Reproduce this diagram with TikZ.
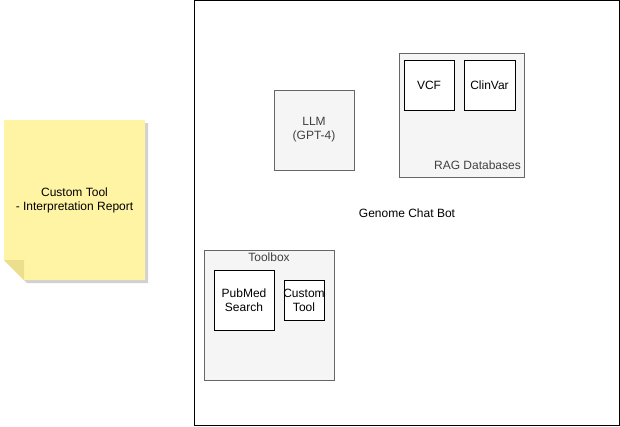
\documentclass[tikz,border=0pt]{standalone}
\usepackage{fontspec}
\setmainfont{Liberation Sans}
\begin{document}
\begin{tikzpicture}[x=1pt,y=-1pt,
  every node/.style={font=\fontsize{12}{14}\selectfont, inner sep=0pt},
  gbox/.style={draw=black!60, fill=black!4, line width=0.8pt},
  wbox/.style={draw=black, fill=white, line width=0.8pt},
  lbl/.style={align=center, text=black}
]
\useasboundingbox (0,0) rectangle (620,426);
\definecolor{notefill}{RGB}{255,244,164}
\definecolor{notefold}{RGB}{235,222,140}
% note with shadow
\fill[black!18] (7,123) -- (148,123) -- (148,283) -- (27,283) -- (7,263) -- cycle;
\path[fill=notefill] (4,120) -- (145,120) -- (145,280) -- (24,280) -- (4,260) -- cycle;
\fill[notefold] (4,260) -- (24,260) -- (24,280) -- cycle;
\node[lbl] (note) at (74.5,200) {Custom Tool\\- Interpretation Report};
% outer frame
\draw[line width=0.8pt] (194.5,0.5) rectangle (619.5,425.5);
\node[lbl] (bot) at (407,213) {Genome Chat Bot};
% LLM
\draw[gbox] (274,90) rectangle (354,170);
\node[lbl, text=black!75] (llm) at (314,130) {LLM\\(GPT-4)};
% RAG
\draw[gbox] (399,53) rectangle (524,177);
\node[anchor=base east, text=black!75] (rag) at (521,169.5) {RAG Databases};
\draw[wbox] (404,60) rectangle (454,110);
\node[lbl] (vcf) at (429,85) {VCF};
\draw[wbox] (464,60) rectangle (515,110);
\node[lbl] (clinvar) at (489.5,85) {ClinVar};
% Toolbox
\draw[gbox] (204,250) rectangle (334,380);
\node[text=black!75] (toolbox) at (269,257.5) {Toolbox};
\draw[wbox] (214,270) rectangle (274,330);
\node[lbl] (pubmed) at (244,300) {PubMed\\Search};
\draw[wbox] (284,280) rectangle (324,320);
\node[lbl] (custom) at (304,300) {Custom\\Tool};
\end{tikzpicture}
\end{document}
